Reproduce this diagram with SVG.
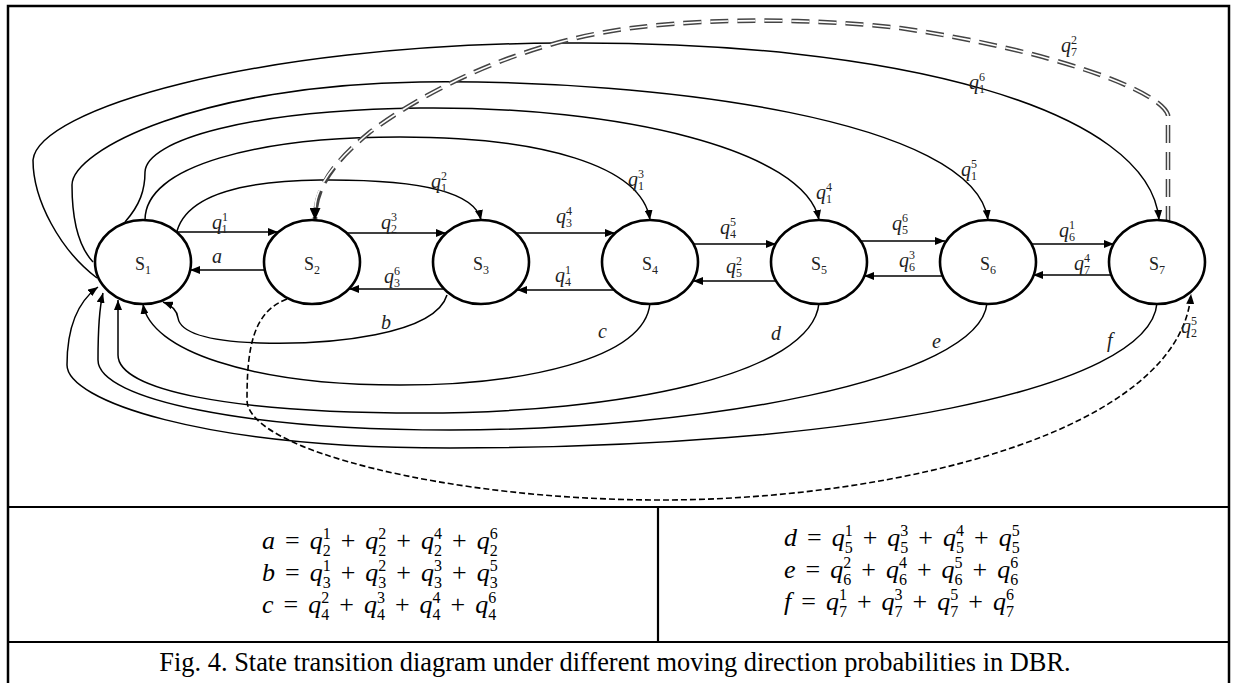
<svg xmlns="http://www.w3.org/2000/svg" width="1236" height="683" viewBox="0 0 1236 683">
<style>
.frame{fill:none;stroke:#000;stroke-width:2.5}
.tl{stroke:#000;stroke-width:2.2}
.node ellipse{fill:#fff;stroke:#000;stroke-width:2.6}
.nt{font-family:"Liberation Serif",serif;font-size:18px;fill:#222;text-anchor:middle}
.nt .sb{font-size:12px}
.c{fill:none;stroke:#000;stroke-width:1.5}
.dsh{fill:none;stroke:#000;stroke-width:1.6;stroke-dasharray:6 3}
.dd1{fill:none;stroke:#444;stroke-width:4.6;stroke-dasharray:18 9}
.dd2{fill:none;stroke:#fff;stroke-width:1.6;stroke-dasharray:18 9}
.lb{font-family:"Liberation Serif",serif;font-size:20px;font-style:italic;fill:#222}
.lb .d{font-size:12px;font-style:normal}
.eq{font-family:"Liberation Serif",serif;font-size:26px;fill:#000;word-spacing:3.5px}
.eq .i{font-style:italic}
.eq .e{font-size:16px}
.cap{font-family:"Liberation Serif",serif;font-size:26.4px;fill:#000;text-anchor:middle}
</style>
<defs>
<marker id="ah" markerUnits="userSpaceOnUse" markerWidth="10" markerHeight="8" viewBox="0 0 10 8" refX="10" refY="4" orient="auto"><path d="M0,0 L10,4 L0,8 z" fill="#000"/></marker>
<marker id="ah2" markerUnits="userSpaceOnUse" markerWidth="12" markerHeight="11" viewBox="0 0 12 11" refX="12" refY="5.5" orient="auto"><path d="M0,0 L12,5.5 L0,11 z" fill="#000"/></marker>
</defs>
<rect x="0" y="0" width="1236" height="683" fill="#fff"/>
<rect class="frame" x="8" y="6" width="1221" height="700"/>
<line class="tl" x1="8" y1="507" x2="1229" y2="507"/>
<line class="tl" x1="8" y1="642" x2="1229" y2="642"/>
<line class="tl" x1="658" y1="507" x2="658" y2="642"/>

<g id="connectors">
<path class="c" d="M177,232 L278,232" marker-end="url(#ah)"/>
<path class="c" d="M265,270 L190,270" marker-end="url(#ah)"/>
<path class="c" d="M347,233 L446,233" marker-end="url(#ah)"/>
<path class="c" d="M444,289 L349,289" marker-end="url(#ah)"/>
<path class="c" d="M516,233 L615,233" marker-end="url(#ah)"/>
<path class="c" d="M614,290 L517,290" marker-end="url(#ah)"/>
<path class="c" d="M693,244 L776,244" marker-end="url(#ah)"/>
<path class="c" d="M776,281 L693,281" marker-end="url(#ah)"/>
<path class="c" d="M861,241 L945,241" marker-end="url(#ah)"/>
<path class="c" d="M942,276 L864,276" marker-end="url(#ah)"/>
<path class="c" d="M1030,244 L1114,244" marker-end="url(#ah)"/>
<path class="c" d="M1111,275 L1033,275" marker-end="url(#ah)"/>
<path class="c" d="M177,231 C186,200 230,181 320,180 C420,179 475,192 481,220" marker-end="url(#ah)"/>
<path class="c" d="M145,220 C145,165 260,137 400,137 C540,137 642,165 650,220" marker-end="url(#ah)"/>
<path class="c" d="M125,222 C140,205 145,190 145,172 C146,140 250,110 420,108 C620,106 805,150 819,220" marker-end="url(#ah)"/>
<path class="c" d="M93,262 C80,248 72,222 72,185 C72,150 200,85 420,82 C660,79 975,120 988,220" marker-end="url(#ah)"/>
<path class="c" d="M97,278 C60,250 33,200 33,160 C38,110 250,45 560,43 C900,40 1150,110 1159,220" marker-end="url(#ah)"/>
<path class="c" d="M447,295 C435,335 330,345 260,343 C200,341 180,330 178,318 C177,310 171,305 163,302" marker-end="url(#ah)"/>
<path class="c" d="M650,303 C645,360 520,385 400,385 C250,385 150,350 143,304" marker-end="url(#ah)"/>
<path class="c" d="M819,303 C812,375 620,413 420,413 C230,413 118,390 118,355 L118,300" marker-end="url(#ah)"/>
<path class="c" d="M987,303 C980,380 700,430 450,430 C250,430 98,400 98,360 C98,330 100,305 103,293" marker-end="url(#ah)"/>
<path class="c" d="M1157,303 C1150,390 850,448 450,448 C200,448 67,400 67,365 C67,325 80,300 98,287" marker-end="url(#ah)"/>
<path class="dsh" d="M287,299 C252,312 247,350 247,400 C247,450 450,500 660,500 C900,500 1180,430 1191,294" marker-end="url(#ah)"/>
<path class="dd1" d="M1168,224 L1168,115 C1160,90 1050,50 900,28 C800,17 680,18 600,33 C500,52 420,95 370,132 C330,165 315,190 315,220" marker-end="url(#ah2)"/>
<path class="dd2" d="M1168,224 L1168,115 C1160,90 1050,50 900,28 C800,17 680,18 600,33 C500,52 420,95 370,132 C330,165 315,190 315,209"/>
</g>

<g id="edge-labels">
<text class="lb" x="212" y="229">q<tspan class="d" dy="-8">1</tspan><tspan class="d" dx="-6" dy="12">1</tspan></text>
<text class="lb" x="212" y="263">a</text>
<text class="lb" x="381" y="229">q<tspan class="d" dy="-8">3</tspan><tspan class="d" dx="-6" dy="12">2</tspan></text>
<text class="lb" x="384" y="283">q<tspan class="d" dy="-8">6</tspan><tspan class="d" dx="-6" dy="12">3</tspan></text>
<text class="lb" x="431" y="188">q<tspan class="d" dy="-8">2</tspan><tspan class="d" dx="-6" dy="12">1</tspan></text>
<text class="lb" x="556" y="223">q<tspan class="d" dy="-8">4</tspan><tspan class="d" dx="-6" dy="12">3</tspan></text>
<text class="lb" x="555" y="282">q<tspan class="d" dy="-8">1</tspan><tspan class="d" dx="-6" dy="12">4</tspan></text>
<text class="lb" x="628" y="186">q<tspan class="d" dy="-8">3</tspan><tspan class="d" dx="-6" dy="12">1</tspan></text>
<text class="lb" x="720" y="234">q<tspan class="d" dy="-8">5</tspan><tspan class="d" dx="-6" dy="12">4</tspan></text>
<text class="lb" x="726" y="273">q<tspan class="d" dy="-8">2</tspan><tspan class="d" dx="-6" dy="12">5</tspan></text>
<text class="lb" x="816" y="199">q<tspan class="d" dy="-8">4</tspan><tspan class="d" dx="-6" dy="12">1</tspan></text>
<text class="lb" x="892" y="230">q<tspan class="d" dy="-8">6</tspan><tspan class="d" dx="-6" dy="12">5</tspan></text>
<text class="lb" x="899" y="267">q<tspan class="d" dy="-8">3</tspan><tspan class="d" dx="-6" dy="12">6</tspan></text>
<text class="lb" x="961" y="176">q<tspan class="d" dy="-8">5</tspan><tspan class="d" dx="-6" dy="12">1</tspan></text>
<text class="lb" x="1059" y="237">q<tspan class="d" dy="-8">1</tspan><tspan class="d" dx="-6" dy="12">6</tspan></text>
<text class="lb" x="1074" y="270">q<tspan class="d" dy="-8">4</tspan><tspan class="d" dx="-6" dy="12">7</tspan></text>
<text class="lb" x="969" y="89">q<tspan class="d" dy="-8">6</tspan><tspan class="d" dx="-6" dy="12">1</tspan></text>
<text class="lb" x="1061" y="52">q<tspan class="d" dy="-8">2</tspan><tspan class="d" dx="-6" dy="12">7</tspan></text>
<text class="lb" x="1181" y="333">q<tspan class="d" dy="-8">5</tspan><tspan class="d" dx="-6" dy="12">2</tspan></text>
<text class="lb" x="381" y="329">b</text>
<text class="lb" x="598" y="338">c</text>
<text class="lb" x="771" y="340">d</text>
<text class="lb" x="932" y="348">e</text>
<text class="lb" x="1107" y="347">f</text>
</g>

<g id="s1" class="node"><ellipse cx="143" cy="262" rx="48" ry="42"/><text class="nt" x="143" y="270">S<tspan class="sb" dy="4">1</tspan></text></g>
<g id="s2" class="node"><ellipse cx="312" cy="262" rx="48" ry="42"/><text class="nt" x="312" y="270">S<tspan class="sb" dy="4">2</tspan></text></g>
<g id="s3" class="node"><ellipse cx="481" cy="262" rx="48" ry="42"/><text class="nt" x="481" y="270">S<tspan class="sb" dy="4">3</tspan></text></g>
<g id="s4" class="node"><ellipse cx="650" cy="262" rx="48" ry="42"/><text class="nt" x="650" y="270">S<tspan class="sb" dy="4">4</tspan></text></g>
<g id="s5" class="node"><ellipse cx="819" cy="262" rx="48" ry="42"/><text class="nt" x="819" y="270">S<tspan class="sb" dy="4">5</tspan></text></g>
<g id="s6" class="node"><ellipse cx="988" cy="262" rx="48" ry="42"/><text class="nt" x="988" y="270">S<tspan class="sb" dy="4">6</tspan></text></g>
<g id="s7" class="node"><ellipse cx="1157" cy="262" rx="48" ry="42"/><text class="nt" x="1157" y="270">S<tspan class="sb" dy="4">7</tspan></text></g>

<g id="equations">
<text class="eq" x="262" y="549"><tspan class="i">a</tspan> = <tspan class="i">q</tspan><tspan class="e" dy="-10">1</tspan><tspan class="e" dx="-8" dy="17">2</tspan><tspan dy="-7"> + </tspan><tspan class="i">q</tspan><tspan class="e" dy="-10">2</tspan><tspan class="e" dx="-8" dy="17">2</tspan><tspan dy="-7"> + </tspan><tspan class="i">q</tspan><tspan class="e" dy="-10">4</tspan><tspan class="e" dx="-8" dy="17">2</tspan><tspan dy="-7"> + </tspan><tspan class="i">q</tspan><tspan class="e" dy="-10">6</tspan><tspan class="e" dx="-8" dy="17">2</tspan></text>
<text class="eq" x="262" y="581"><tspan class="i">b</tspan> = <tspan class="i">q</tspan><tspan class="e" dy="-10">1</tspan><tspan class="e" dx="-8" dy="17">3</tspan><tspan dy="-7"> + </tspan><tspan class="i">q</tspan><tspan class="e" dy="-10">2</tspan><tspan class="e" dx="-8" dy="17">3</tspan><tspan dy="-7"> + </tspan><tspan class="i">q</tspan><tspan class="e" dy="-10">3</tspan><tspan class="e" dx="-8" dy="17">3</tspan><tspan dy="-7"> + </tspan><tspan class="i">q</tspan><tspan class="e" dy="-10">5</tspan><tspan class="e" dx="-8" dy="17">3</tspan></text>
<text class="eq" x="262" y="613"><tspan class="i">c</tspan> = <tspan class="i">q</tspan><tspan class="e" dy="-10">2</tspan><tspan class="e" dx="-8" dy="17">4</tspan><tspan dy="-7"> + </tspan><tspan class="i">q</tspan><tspan class="e" dy="-10">3</tspan><tspan class="e" dx="-8" dy="17">4</tspan><tspan dy="-7"> + </tspan><tspan class="i">q</tspan><tspan class="e" dy="-10">4</tspan><tspan class="e" dx="-8" dy="17">4</tspan><tspan dy="-7"> + </tspan><tspan class="i">q</tspan><tspan class="e" dy="-10">6</tspan><tspan class="e" dx="-8" dy="17">4</tspan></text>
<text class="eq" x="784" y="546"><tspan class="i">d</tspan> = <tspan class="i">q</tspan><tspan class="e" dy="-10">1</tspan><tspan class="e" dx="-8" dy="17">5</tspan><tspan dy="-7"> + </tspan><tspan class="i">q</tspan><tspan class="e" dy="-10">3</tspan><tspan class="e" dx="-8" dy="17">5</tspan><tspan dy="-7"> + </tspan><tspan class="i">q</tspan><tspan class="e" dy="-10">4</tspan><tspan class="e" dx="-8" dy="17">5</tspan><tspan dy="-7"> + </tspan><tspan class="i">q</tspan><tspan class="e" dy="-10">5</tspan><tspan class="e" dx="-8" dy="17">5</tspan></text>
<text class="eq" x="784" y="578"><tspan class="i">e</tspan> = <tspan class="i">q</tspan><tspan class="e" dy="-10">2</tspan><tspan class="e" dx="-8" dy="17">6</tspan><tspan dy="-7"> + </tspan><tspan class="i">q</tspan><tspan class="e" dy="-10">4</tspan><tspan class="e" dx="-8" dy="17">6</tspan><tspan dy="-7"> + </tspan><tspan class="i">q</tspan><tspan class="e" dy="-10">5</tspan><tspan class="e" dx="-8" dy="17">6</tspan><tspan dy="-7"> + </tspan><tspan class="i">q</tspan><tspan class="e" dy="-10">6</tspan><tspan class="e" dx="-8" dy="17">6</tspan></text>
<text class="eq" x="784" y="610"><tspan class="i">f</tspan> = <tspan class="i">q</tspan><tspan class="e" dy="-10">1</tspan><tspan class="e" dx="-8" dy="17">7</tspan><tspan dy="-7"> + </tspan><tspan class="i">q</tspan><tspan class="e" dy="-10">3</tspan><tspan class="e" dx="-8" dy="17">7</tspan><tspan dy="-7"> + </tspan><tspan class="i">q</tspan><tspan class="e" dy="-10">5</tspan><tspan class="e" dx="-8" dy="17">7</tspan><tspan dy="-7"> + </tspan><tspan class="i">q</tspan><tspan class="e" dy="-10">6</tspan><tspan class="e" dx="-8" dy="17">7</tspan></text>
</g>
<text class="cap" x="615" y="671">Fig. 4. State transition diagram under different moving direction probabilities in DBR.</text>
</svg>
